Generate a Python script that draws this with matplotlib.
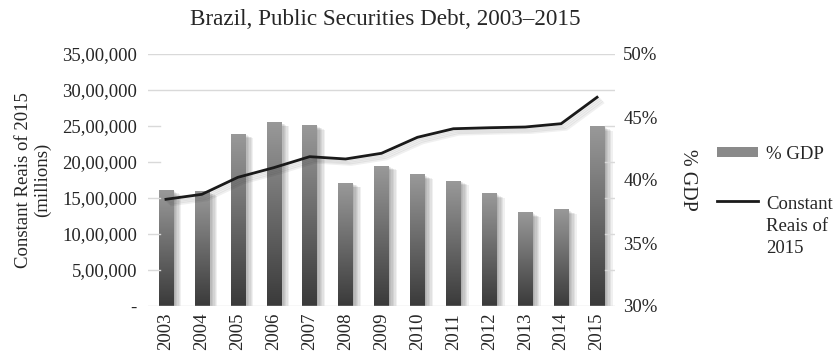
import numpy as np
import matplotlib
matplotlib.use("Agg")
import matplotlib.pyplot as plt
import matplotlib.patheffects as pe
from matplotlib.colors import LinearSegmentedColormap
from matplotlib.legend_handler import HandlerLine2D
from matplotlib.lines import Line2D
from matplotlib.patches import Patch
from matplotlib.ticker import FuncFormatter, MultipleLocator

plt.rcParams['font.family'] = ['Liberation Serif', 'DejaVu Serif']

years = ['2003', '2004', '2005', '2006', '2007', '2008', '2009',
         '2010', '2011', '2012', '2013', '2014', '2015']
# debt as share of GDP (%)
pct_gdp = [39.15, 39.07, 43.65, 44.58, 44.31, 39.74, 41.11,
           40.40, 39.92, 38.91, 37.40, 37.62, 44.23]
# stock in constant 2015 reais (millions)
reais_2015 = [1482000, 1551000, 1787000, 1921000, 2074000, 2042000, 2121000,
              2343000, 2462000, 2476000, 2486000, 2532000, 2899000]


def lakh_fmt(v, pos):
    v = int(round(v))
    if v == 0:
        return '-'
    s = str(v)
    last3, rest = s[-3:], s[:-3]
    groups = []
    while len(rest) > 2:
        groups.insert(0, rest[-2:])
        rest = rest[:-2]
    if rest:
        groups.insert(0, rest)
    return ','.join(groups + [last3])


class FirstLineHandler(HandlerLine2D):
    # put the legend line next to the first line of a wrapped label
    def __init__(self, shift, **kw):
        super().__init__(**kw)
        self.shift = shift

    def create_artists(self, legend, orig_handle, xdescent, ydescent,
                       width, height, fontsize, trans):
        arts = super().create_artists(legend, orig_handle, xdescent, ydescent,
                                      width, height, fontsize, trans)
        for a in arts:
            a.set_ydata(np.asarray(a.get_ydata()) + self.shift)
        return arts


fig = plt.figure(figsize=(8.39, 3.55), dpi=100)
ax = fig.add_axes([148 / 839, 1 - 306 / 355, 467 / 839, 252 / 355])
ax2 = ax.twinx()

x = np.arange(len(years))
w = 0.4
grey = '#d9d9d9'
fs = 13.5
txt = '#262626'

# bars: shadowed base, then a vertical gradient painted over each one
shadow = [pe.SimplePatchShadow(offset=(k, -0.5 * k), shadow_rgbFace='k', alpha=0.06)
          for k in range(1, 7)] + [pe.Normal()]
ax2.bar(x, np.array(pct_gdp) - 30, width=w, bottom=30, color='#6a6a6a',
        path_effects=shadow, zorder=2)
cmap = LinearSegmentedColormap.from_list('barfade', ['#3a3a3a', '#999999'])
grad = np.linspace(0, 1, 256).reshape(-1, 1)
for xi, p in zip(x, pct_gdp):
    ax2.imshow(grad, extent=(xi - w / 2, xi + w / 2, 30, p), origin='lower',
               aspect='auto', cmap=cmap, zorder=3)

ax2.set_ylim(30, 50)
ax2.yaxis.set_major_locator(MultipleLocator(5))
ax2.yaxis.set_major_formatter(FuncFormatter(lambda v, p: f'{v:.0f}%'))

# line on the left axis, kept above the bars
line_shadow = [pe.SimpleLineShadow(offset=(k, -k), shadow_color='k', alpha=0.06)
               for k in range(1, 5)] + [pe.Normal()]
ax.plot(x, reais_2015, color='#1a1a1a', lw=2.0, zorder=5,
        path_effects=line_shadow, solid_joinstyle='round')
ax.set_zorder(ax2.get_zorder() + 1)
ax.patch.set_visible(False)

ax.set_ylim(0, 3500000)
ax.set_xlim(-0.5, len(years) - 0.5)
ax.yaxis.set_major_locator(MultipleLocator(500000))
ax.yaxis.set_major_formatter(FuncFormatter(lakh_fmt))
ax.set_xticks(x)
ax.set_xticklabels(years, rotation=90)

# gridlines: full across the top, short stubs at the edges lower down
for v in range(0, 3500001, 500000):
    if v == 0 or v >= 3000000:
        ax.axhline(v, color=grey, lw=1.0, zorder=1)
    else:
        ax.axhline(v, xmin=0, xmax=0.026, color=grey, lw=1.0, zorder=1)
        ax.axhline(v, xmin=0.978, xmax=1, color=grey, lw=1.0, zorder=1)

for a in (ax, ax2):
    for s in a.spines.values():
        s.set_visible(False)
    a.tick_params(length=0, labelsize=fs, colors=txt)
ax.tick_params(axis='y', pad=8)
ax.tick_params(axis='x', pad=5)
ax2.tick_params(axis='y', pad=6)

ax.set_ylabel('Constant Reais of 2015\n(millions)', fontsize=fs, color=txt,
              labelpad=8, linespacing=1.1)
ax2.set_ylabel('% GDP', fontsize=14.5, color=txt, rotation=270, labelpad=28)
fig.suptitle('Brazil, Public Securities Debt, 2003\u20132015', fontsize=16.7,
             color=txt, x=0.459, y=0.975)

spacing = 1.42
shift = fs * spacing * 0.98
handles = [Patch(facecolor='#8a8a8a', edgecolor='none'),
           Line2D([], [], color='#1a1a1a', lw=2.0)]
leg = fig.legend(handles, ['% GDP', 'Constant\nReais of\n2015'], loc='upper left',
                 bbox_to_anchor=(0.834, 0.637), frameon=False, fontsize=fs,
                 handlelength=2.2, handleheight=0.5, handletextpad=0.45,
                 labelspacing=1.75, labelcolor=txt,
                 handler_map={Line2D: FirstLineHandler(shift)})
for t in leg.get_texts():
    t.set_linespacing(spacing)

fig.savefig('out.png', dpi=100)
